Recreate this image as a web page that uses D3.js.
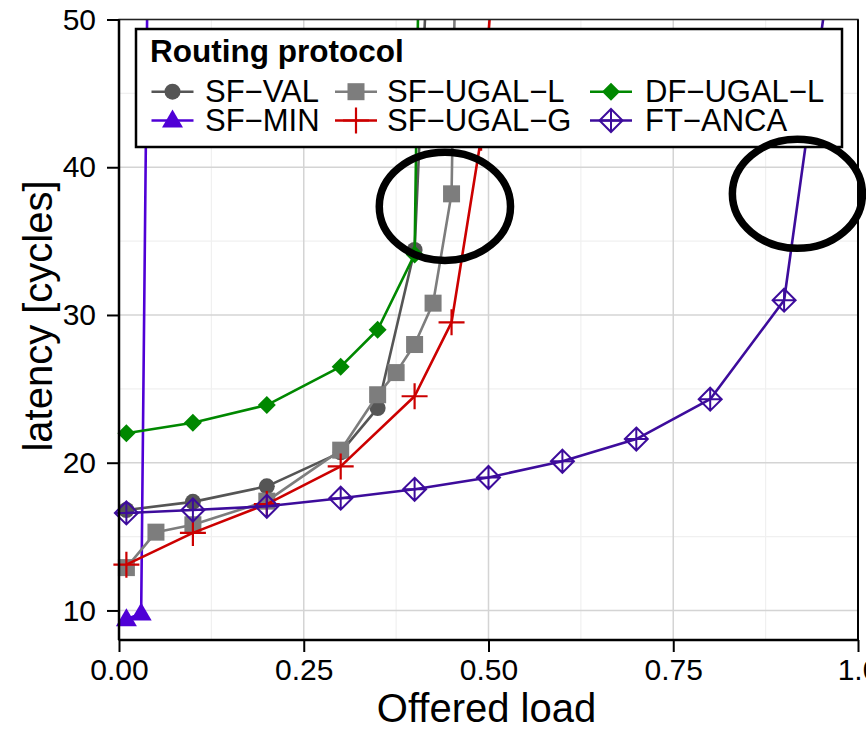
<!DOCTYPE html>
<html>
<head>
<meta charset="utf-8">
<script src="https://cdn.jsdelivr.net/npm/d3@7"></script>
<style>
  html, body { margin: 0; padding: 0; background: #fff; }
  svg { display: block; font-family: "Liberation Sans", Arial, Helvetica, sans-serif; }
</style>
</head>
<body>
<svg id="chart" width="866" height="731"></svg>
<script>
// Offered load vs. latency for each routing protocol
const seriesNames = ["SF\u2212VAL", "SF\u2212MIN", "SF\u2212UGAL\u2212L", "SF\u2212UGAL\u2212G", "DF\u2212UGAL\u2212L", "FT\u2212ANCA"];

const sfValLoad    = [0.01, 0.1, 0.2, 0.3, 0.35, 0.4, 0.45];
const sfValLat     = [16.8, 17.35, 18.4, 20.7, 23.7, 34.4, 90];

const sfMinLoad    = [0.01, 0.03, 0.04];
const sfMinLat     = [9.4, 9.8, 60];

const sfUgalLLoad  = [0.01, 0.05, 0.1, 0.2, 0.3, 0.35, 0.375, 0.4, 0.425, 0.45, 0.475];
const sfUgalLLat   = [12.9, 15.3, 15.8, 17.4, 20.85, 24.6, 26.1, 28.0, 30.8, 38.2, 113];

const sfUgalGLoad  = [0.01, 0.1, 0.2, 0.3, 0.4, 0.45, 0.49, 0.55];
const sfUgalGLat   = [13.1, 15.25, 17.2, 19.75, 24.5, 29.5, 42, 84];

const dfUgalLLoad  = [0.01, 0.1, 0.2, 0.3, 0.35, 0.4, 0.45];
const dfUgalLLat   = [22.0, 22.7, 23.9, 26.5, 29.0, 34.1, 210];

const ftAncaLoad   = [0.01, 0.1, 0.2, 0.3, 0.4, 0.5, 0.6, 0.7, 0.8, 0.9, 1.0];
const ftAncaLat    = [16.6, 16.8, 17.05, 17.6, 18.2, 19.0, 20.1, 21.6, 24.3, 31.0, 67];

const xTicks = [0, 0.25, 0.5, 0.75, 1.0];
const xTickLabels = ["0.00", "0.25", "0.50", "0.75", "1.0"];
const yTicks = [10, 20, 30, 40, 50];
const yTickLabels = ["10", "20", "30", "40", "50"];

// highlighted regions (centre in data units, radii in data units)
const highlightCenters = [[0.441, 37.35], [0.918, 38.2]];
const highlightRadii = [[0.0888, 3.66], [0.088, 3.69]];

const colors = {
  "SF\u2212VAL": "#555555",
  "SF\u2212MIN": "#4f00d6",
  "SF\u2212UGAL\u2212L": "#7d7d7d",
  "SF\u2212UGAL\u2212G": "#cc0000",
  "DF\u2212UGAL\u2212L": "#008800",
  "FT\u2212ANCA": "#3d0c9c"
};
const shapes = {
  "SF\u2212VAL": "circle",
  "SF\u2212MIN": "triangle",
  "SF\u2212UGAL\u2212L": "square",
  "SF\u2212UGAL\u2212G": "plus",
  "DF\u2212UGAL\u2212L": "diamond",
  "FT\u2212ANCA": "diamondplus"
};

const series = [
  { name: seriesNames[0], load: sfValLoad, lat: sfValLat },
  { name: seriesNames[1], load: sfMinLoad, lat: sfMinLat },
  { name: seriesNames[2], load: sfUgalLLoad, lat: sfUgalLLat },
  { name: seriesNames[3], load: sfUgalGLoad, lat: sfUgalGLat },
  { name: seriesNames[4], load: dfUgalLLoad, lat: dfUgalLLat },
  { name: seriesNames[5], load: ftAncaLoad, lat: ftAncaLat }
].map(s => ({ name: s.name, pts: s.load.map((l, i) => ({ x: l, y: s.lat[i] })) }));

const svg = d3.select("#chart");
const pLeft = 119, pRight = 858, pTop = 19.5, pBottom = 640;

const x = d3.scaleLinear().domain([0, 1]).range([pLeft, pRight]);
const y = d3.scaleLinear().domain([8, 50]).range([pBottom, pTop]);

// grid: minor then major
const minorX = [0.125, 0.375, 0.625, 0.875];
const minorY = [15, 25, 35, 45];
const grid = svg.append("g");
grid.selectAll(".mx").data(minorX).join("line")
  .attr("x1", d => x(d)).attr("x2", d => x(d)).attr("y1", pTop).attr("y2", pBottom)
  .attr("stroke", "#f0f0f0").attr("stroke-width", 1.2);
grid.selectAll(".my").data(minorY).join("line")
  .attr("x1", pLeft).attr("x2", pRight).attr("y1", d => y(d)).attr("y2", d => y(d))
  .attr("stroke", "#f0f0f0").attr("stroke-width", 1.2);
grid.selectAll(".gx").data(xTicks.slice(1, 4)).join("line")
  .attr("x1", d => x(d)).attr("x2", d => x(d)).attr("y1", pTop).attr("y2", pBottom)
  .attr("stroke", "#d4d4d4").attr("stroke-width", 1.5);
grid.selectAll(".gy").data(yTicks).join("line")
  .attr("x1", pLeft).attr("x2", pRight).attr("y1", d => y(d)).attr("y2", d => y(d))
  .attr("stroke", "#d4d4d4").attr("stroke-width", 1.5);

// clip region for lines
svg.append("clipPath").attr("id", "panel")
  .append("rect").attr("x", pLeft).attr("y", pTop).attr("width", pRight - pLeft).attr("height", pBottom - pTop);

const line = d3.line().x(d => x(d.x)).y(d => y(d.y));

function drawMarker(g, shape, color, cx, cy) {
  if (shape === "circle") {
    g.append("circle").attr("cx", cx).attr("cy", cy).attr("r", 8).attr("fill", color);
  } else if (shape === "square") {
    g.append("rect").attr("x", cx - 8.5).attr("y", cy - 8.5).attr("width", 17).attr("height", 17).attr("fill", color);
  } else if (shape === "triangle") {
    g.append("path").attr("d", `M${cx},${cy - 11}L${cx + 10.5},${cy + 7}L${cx - 10.5},${cy + 7}Z`).attr("fill", color);
  } else if (shape === "plus") {
    g.append("path").attr("d", `M${cx - 13},${cy}H${cx + 13}M${cx},${cy - 13}V${cy + 13}`)
      .attr("stroke", color).attr("stroke-width", 2.2).attr("fill", "none");
  } else if (shape === "diamond") {
    g.append("path").attr("d", `M${cx},${cy - 9}L${cx + 9},${cy}L${cx},${cy + 9}L${cx - 9},${cy}Z`).attr("fill", color);
  } else if (shape === "diamondplus") {
    g.append("path").attr("d", `M${cx},${cy - 11.5}L${cx + 11.5},${cy}L${cx},${cy + 11.5}L${cx - 11.5},${cy}Z M${cx - 11.5},${cy}H${cx + 11.5}M${cx},${cy - 11.5}V${cy + 11.5}`)
      .attr("stroke", color).attr("stroke-width", 2).attr("fill", "none");
  }
}

// series: line then markers
series.forEach(s => {
  const g = svg.append("g");
  g.append("path").datum(s.pts).attr("d", line)
    .attr("clip-path", "url(#panel)")
    .attr("fill", "none").attr("stroke", colors[s.name]).attr("stroke-width", 2.6)
    .attr("stroke-linejoin", "round");
  s.pts.filter(p => p.y <= y.domain()[1] && p.y >= y.domain()[0]).forEach(p => {
    drawMarker(g, shapes[s.name], colors[s.name], x(p.x), y(p.y));
  });
});

// panel frame and axes
svg.append("rect").attr("x", pLeft).attr("y", pTop).attr("width", pRight - pLeft).attr("height", pBottom - pTop)
  .attr("fill", "none").attr("stroke", "#222").attr("stroke-width", 1.5);
svg.append("line").attr("x1", pRight).attr("x2", pRight).attr("y1", pTop).attr("y2", pBottom)
  .attr("stroke", "#000").attr("stroke-width", 2);

const xAxis = d3.axisBottom(x).tickValues(xTicks).tickFormat((d, i) => xTickLabels[i]).tickSize(12).tickPadding(7);
const yAxis = d3.axisLeft(y).tickValues(yTicks).tickFormat((d, i) => yTickLabels[i]).tickSize(12).tickPadding(11);

const gx = svg.append("g").attr("transform", `translate(0,${pBottom})`).call(xAxis);
gx.select(".domain").attr("stroke", "#000").attr("stroke-width", 2.5).attr("d", `M${pLeft},0H${pRight}`);
gx.selectAll(".tick line").attr("stroke", "#000").attr("stroke-width", 2);
gx.selectAll(".tick text").attr("font-size", 30).attr("fill", "#000")
  .attr("font-family", "'Liberation Sans', Arial, sans-serif").attr("dy", "0.71em");

const gy = svg.append("g").attr("transform", `translate(${pLeft},0)`).call(yAxis);
gy.select(".domain").attr("stroke", "#000").attr("stroke-width", 2.5).attr("d", `M0,${pTop}V${pBottom}`);
gy.selectAll(".tick line").attr("stroke", "#000").attr("stroke-width", 2);
gy.selectAll(".tick text").attr("font-size", 30).attr("fill", "#000")
  .attr("font-family", "'Liberation Sans', Arial, sans-serif");

// axis titles
svg.append("text").attr("x", (pLeft + pRight) / 2 - 2).attr("y", 722).attr("text-anchor", "middle")
  .attr("font-size", 40).attr("fill", "#000").text("Offered load");
svg.append("text").attr("transform", "translate(52,316) rotate(-90)").attr("text-anchor", "middle")
  .attr("font-size", 40).attr("fill", "#000").text("latency [cycles]");

// legend
const legend = svg.append("g");
legend.append("rect").attr("x", 136).attr("y", 29).attr("width", 706).attr("height", 118)
  .attr("fill", "#fff").attr("stroke", "#000").attr("stroke-width", 2.5);
legend.append("text").attr("x", 150).attr("y", 62).attr("font-size", 31.5).attr("font-weight", "bold")
  .attr("fill", "#000").text("Routing protocol");

const colKeyX = [151.5, 335, 590];
const colTextX = [205, 387, 645];
const rowY = [91.7, 120.5];
seriesNames.forEach((name, i) => {
  const col = Math.floor(i / 2), row = i % 2;
  const kx = colKeyX[col], ky = rowY[row];
  const g = legend.append("g");
  g.append("line").attr("x1", kx).attr("x2", kx + 42).attr("y1", ky).attr("y2", ky)
    .attr("stroke", colors[name]).attr("stroke-width", 2.5);
  drawMarker(g, shapes[name], colors[name], kx + 21, ky);
  g.append("text").attr("x", colTextX[col]).attr("y", ky + 10.5).attr("font-size", 31)
    .attr("fill", "#000").text(name);
});

// highlight ellipses
svg.append("g").selectAll("ellipse").data(highlightCenters).join("ellipse")
  .attr("cx", d => x(d[0])).attr("cy", d => y(d[1]))
  .attr("rx", (d, i) => x(highlightRadii[i][0]) - x(0))
  .attr("ry", (d, i) => y(0) - y(highlightRadii[i][1]))
  .attr("fill", "none").attr("stroke", "#000").attr("stroke-width", 7.5);
</script>
</body>
</html>
